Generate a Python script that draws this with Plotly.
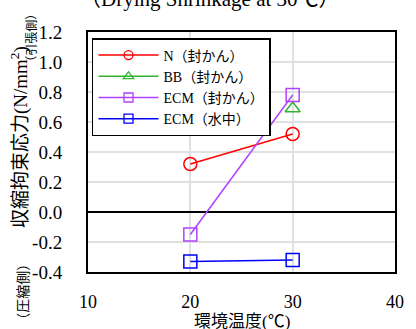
import plotly.graph_objects as go

# ---- data ----
temps = [20, 30]
n_sealed = [0.32, 0.52]
bb_temps = [30]
bb_sealed = [0.69]
ecm_sealed = [-0.15, 0.78]
ecm_water = [-0.33, -0.32]

series_names = ["N（封かん）", "BB（封かん）", "ECM（封かん）", "ECM（水中）"]
series_colors = ["#ff0000", "#33b233", "#b041ff", "#0000ff"]
series_symbols = ["circle-open", "triangle-up-open", "square-open", "square-open"]
x_ticks = [10, 20, 30, 40]
y_ticks = [-0.4, -0.2, 0.0, 0.2, 0.4, 0.6, 0.8, 1.0, 1.2]
y_ticktext = ["-0.4", "-0.2", "0.0", "0.2", "0.4", "0.6", "0.8", "1.0", "1.2"]

SERIF = "'Liberation Serif', 'Times New Roman', 'Noto Sans CJK JP', serif"

fig = go.Figure()

series_x = [temps, bb_temps, temps, temps]
series_y = [n_sealed, bb_sealed, ecm_sealed, ecm_water]

for xs, ys, name, color, symbol in zip(series_x, series_y, series_names, series_colors, series_symbols):
    fig.add_trace(go.Scatter(
        x=xs, y=ys, name=name, mode="lines+markers", showlegend=False,
        line=dict(color=color, width=1.5),
        marker=dict(symbol=symbol, size=13, color=color,
                    line=dict(color=color, width=1.5)),
    ))

# legend entries (smaller markers as in the reference legend)
for name, color, symbol in zip(series_names, series_colors, series_symbols):
    fig.add_trace(go.Scatter(
        x=[None], y=[None], name=name, mode="lines+markers", showlegend=True,
        line=dict(color=color, width=1.5),
        marker=dict(symbol=symbol, size=9, color=color,
                    line=dict(color=color, width=1.3)),
    ))

fig.update_layout(
    width=416, height=329,
    margin=dict(l=88, r=12, t=32, b=57),
    paper_bgcolor="white", plot_bgcolor="white",
    font=dict(family=SERIF, color="black"),
    showlegend=True,
    legend=dict(
        x=0.013, y=0.975, xanchor="left", yanchor="top",
        bgcolor="white", bordercolor="black", borderwidth=1.5,
        font=dict(family=SERIF, size=14, color="black"),
        tracegroupgap=0, itemwidth=60,
    ),
)

fig.update_xaxes(
    range=[10, 40], tickvals=x_ticks, ticktext=[str(v) for v in x_ticks],
    showgrid=True, gridcolor="#e0e0e0", gridwidth=1.5,
    showline=True, linecolor="black", linewidth=2, mirror=True,
    ticks="", ticklabelstandoff=12, zeroline=False,
    tickfont=dict(family=SERIF, size=18, color="black"),
)
fig.update_yaxes(
    range=[-0.4, 1.2], tickvals=y_ticks, ticktext=y_ticktext,
    showgrid=True, gridcolor="#e0e0e0", gridwidth=1.5,
    showline=True, linecolor="black", linewidth=2, mirror=True,
    zeroline=True, zerolinecolor="black", zerolinewidth=2,
    ticks="", ticklabelstandoff=20,
    tickfont=dict(family=SERIF, size=19, color="black"),
)

annotations = [
    dict(text="（Drying Shrinkage at 30℃）", x=0.396, y=1, xref="paper", yref="paper",
         xanchor="center", yanchor="bottom", yshift=19, showarrow=False,
         font=dict(family=SERIF, size=21, color="black")),
    dict(text="収縮拘束応力(N/mm<sup>2</sup>)", x=-0.2247, y=0.5625, xref="paper", yref="paper",
         xanchor="center", yanchor="middle", textangle=-90, showarrow=False,
         font=dict(family=SERIF, size=19, color="black")),
    dict(text="（引張側）", x=-0.1835, y=0.975, xref="paper", yref="paper",
         xanchor="center", yanchor="middle", textangle=-90, showarrow=False,
         font=dict(family=SERIF, size=12, color="black")),
    dict(text="（圧縮側）", x=-0.209, y=-0.083, xref="paper", yref="paper",
         xanchor="center", yanchor="middle", textangle=-90, showarrow=False,
         font=dict(family=SERIF, size=14, color="black")),
    dict(text="環境温度(℃)", x=0.5, y=-0.208, xref="paper", yref="paper",
         xanchor="center", yanchor="middle", showarrow=False,
         font=dict(family=SERIF, size=17, color="black")),
]
fig.update_layout(annotations=annotations)

fig.write_html("out.html")
